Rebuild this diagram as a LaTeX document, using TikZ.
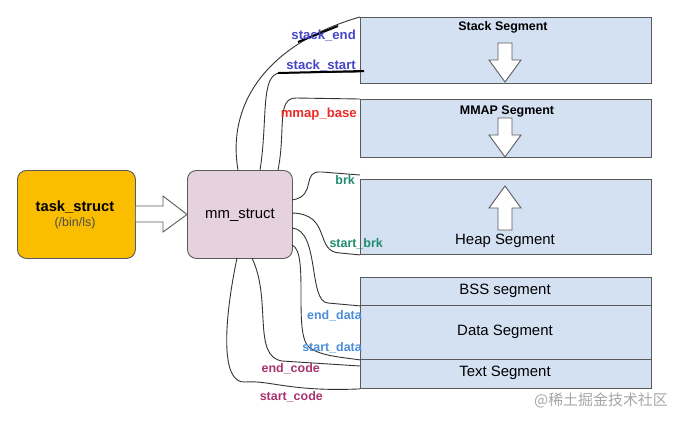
\documentclass[tikz,border=0pt]{standalone}
\usepackage{fontspec}
\setmainfont{Liberation Sans}
\newfontfamily\cjk{Noto Sans CJK SC}
\definecolor{segfill}{HTML}{D4E1F3}
\definecolor{segdraw}{HTML}{5A5A5A}
\definecolor{taskfill}{HTML}{FABD00}
\definecolor{mmfill}{HTML}{E6D1DF}
\definecolor{lblblue}{HTML}{4545C8}
\definecolor{lblred}{HTML}{EE2A2A}
\definecolor{lblgreen}{HTML}{1F8C6C}
\definecolor{lbllblue}{HTML}{4A8EDD}
\definecolor{lblmag}{HTML}{A8336E}
\begin{document}
\begin{tikzpicture}[x=1bp,y=-1bp,
  segbox/.style={draw=segdraw,fill=segfill,line width=0.9pt,inner sep=0pt,anchor=north west},
  rbox/.style={draw=segdraw,line width=0.9pt,rounded corners=9bp,minimum width=118bp,minimum height=88bp,inner sep=0pt,anchor=north west},
  hollow/.style={draw=segdraw,fill=white,line width=0.9pt,line join=miter},
  wire/.style={draw=black!80,line width=0.9pt},
  penmark/.style={draw=black,line width=2pt},
  lbl/.style={font=\fontsize{12.5}{14}\selectfont\bfseries,inner sep=0pt,anchor=east},
  biglbl/.style={lbl,font=\fontsize{13.2}{15}\selectfont\bfseries},
  segtitle/.style={font=\fontsize{12.5}{14}\selectfont\bfseries,inner sep=0pt},
  segtext/.style={font=\fontsize{15}{17}\selectfont,inner sep=0pt}]
\useasboundingbox (0,0) rectangle (677,422);

% boxes
\node[rbox,fill=taskfill] (task) at (17,170) {};
\node[rbox,fill=mmfill,minimum width=105bp] (mm) at (187,170) {};
\node[font=\fontsize{14.8}{17}\selectfont\bfseries,inner sep=0pt] (tasklbl) at (75,207) {task\_struct};
\node[font=\fontsize{12.5}{14}\selectfont,inner sep=0pt,text=black!70] (binls) at (75,223) {(/bin/ls)};
\node[segtext] (mmlbl) at (240,215) {mm\_struct};

% big hollow arrow
\draw[hollow] (task.east |- 0,206) -- (163,206) -- (163,196) -- (mm.west) -- (163,232) -- (163,222) -- (task.east |- 0,222);

% segments
\node[segbox,minimum width=291bp,minimum height=66bp] (stack) at (360,17) {};
\node[segbox,minimum width=291bp,minimum height=58bp] (mmap) at (360,99) {};
\node[segbox,minimum width=291bp,minimum height=75bp] (heap) at (360,179) {};
\node[segbox,minimum width=291bp,minimum height=28bp] (bss) at (360,277) {};
\node[segbox,minimum width=291bp,minimum height=54bp] (data) at (360,305) {};
\node[segbox,minimum width=291bp,minimum height=29bp] (text) at (360,359) {};

\node[segtitle] (stacklbl) at (503,27) {Stack Segment};
\node[segtitle] (mmaplbl) at (507,111) {MMAP Segment};
\node[segtext] (heaplbl) at (505,241) {Heap Segment};
\node[segtext] (bsslbl) at (505,291) {BSS segment};
\node[segtext] (datalbl) at (505,332) {Data Segment};
\node[segtext] (textlbl) at (505,373) {Text Segment};

% hollow arrows inside segments
\draw[hollow] (498,43) -- (512,43) -- (512,60) -- (521,60) -- (505,82) -- (489,60) -- (498,60) -- cycle;
\draw[hollow] (498,118) -- (512,118) -- (512,135) -- (521,135) -- (505,157) -- (489,135) -- (498,135) -- cycle;
\draw[hollow] (498,230) -- (512,230) -- (512,208) -- (521,208) -- (505,186) -- (489,208) -- (498,208) -- cycle;

% wires
\coordinate (wSE) at (238,170);
\coordinate (wSS) at (260,170);
\coordinate (wMB) at (278,170);
\coordinate (wBK) at (292,200);
\coordinate (wSB) at (292,213);
\coordinate (wED) at (292,228);
\coordinate (wSD) at (292,245);
\coordinate (wEC) at (252,258);
\coordinate (wSC) at (237,258);

\draw[wire] (wSE) .. controls (226,100) and (272,42) .. (stack.north west);
\draw[wire] (wSS) .. controls (268,120) and (260,74) .. (280,73) -- (360,72);
\draw[wire] (wMB) .. controls (286,130) and (276,98) .. (296,98) -- (mmap.north west);
\draw[wire] (wBK) .. controls (318,196) and (300,170) .. (322,172) -- (360,175);
\draw[wire] (wSB) .. controls (332,214) and (314,252) .. (340,253) -- (heap.south west);
\draw[wire] (wED) .. controls (320,230) and (308,302) .. (328,303) -- (bss.south west);
\draw[wire] (wSD) .. controls (310,252) and (292,336) .. (310,348) .. controls (322,356) and (340,357) .. (data.south west);
\draw[wire] (wEC) .. controls (272,300) and (252,356) .. (282,361) -- (360,366);
\draw[wire] (wSC) .. controls (224,320) and (220,384) .. (245,382) .. controls (270,380) and (290,392) .. (text.south west);

% hand-drawn marks
\draw[penmark] (298,42) -- (338,26);
\draw[penmark] (278,73) -- (364,71);

% labels
\node[biglbl,text=lblblue] (l1) at (356,36) {stack\_end};
\node[biglbl,text=lblblue] (l2) at (356,66) {stack\_start};
\node[biglbl,text=lblred] (l3) at (357,114) {mmap\_base};
\node[lbl,text=lblgreen] (l4) at (355,180) {brk};
\node[lbl,text=lblgreen] (l5) at (383,244) {start\_brk};
\node[lbl,text=lbllblue] (l6) at (362,316) {end\_data};
\node[lbl,text=lbllblue] (l7) at (362,348) {start\_data};
\node[lbl,text=lblmag] (l8) at (320,369) {end\_code};
\node[lbl,text=lblmag] (l9) at (323,397) {start\_code};

\node[font=\fontsize{15}{17}\selectfont\cjk,text=black!35,inner sep=0pt] (wm) at (601,400) {@稀土掘金技术社区};
\end{tikzpicture}
\end{document}
